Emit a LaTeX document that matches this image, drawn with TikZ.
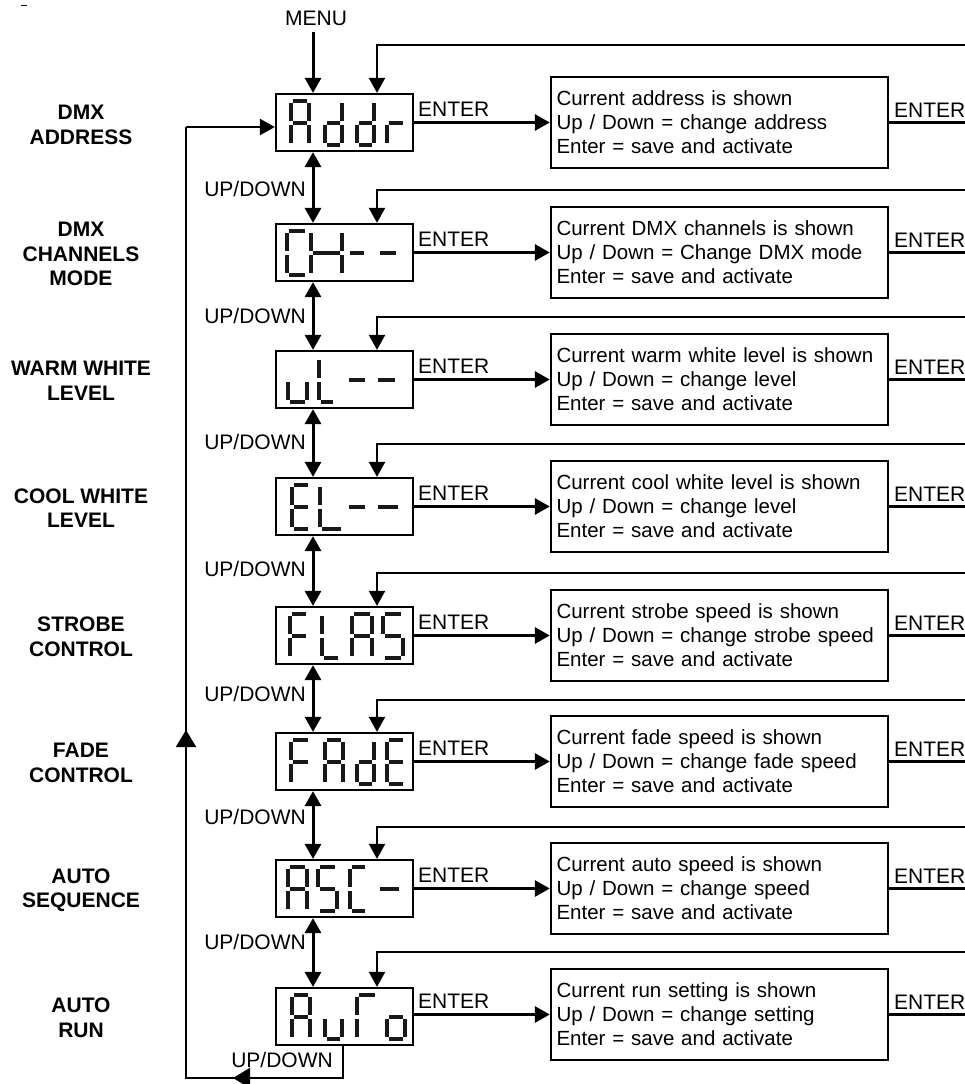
\documentclass[tikz,border=0pt]{standalone}
\usepackage{fontspec}
\setmainfont{Liberation Sans}
\usetikzlibrary{arrows.meta}
\newcommand\sga{\draw[seg] (2,0) -- ({\w-2},0);}
\newcommand\sgb{\draw[seg] (\w,2) -- (\w,20);}
\newcommand\sgc{\draw[seg] (\w,24) -- (\w,42);}
\newcommand\sgd{\draw[seg] (2,44) -- ({\w-2},44);}
\newcommand\sge{\draw[seg] (0,24) -- (0,42);}
\newcommand\sgf{\draw[seg] (0,2) -- (0,20);}
\newcommand\sgg{\draw[seg] (2,22) -- ({\w-2},22);}
\newcommand\dig[4]{\begin{scope}[shift={(#1,#2)}]\def\w{#3}\foreach \s in {#4}{\csname sg\s\endcsname}\end{scope}}
\begin{document}
\begin{tikzpicture}[x=1pt,y=-1pt,
  every node/.style={font=\fontsize{21}{24}\selectfont, inner sep=0pt},
  seg/.style={line width=3.5pt, line cap=butt, black!90},
  disp/.style={draw, line width=2.2pt, minimum width=137pt, minimum height=57pt},
  desc/.style={draw, line width=2.4pt, minimum height=91pt, text width=326pt, inner xsep=5.5pt, align=left, font=\fontsize{20.5}{24}\selectfont},
  lab/.style={align=center, font=\fontsize{21}{24.5}\selectfont\bfseries},
  main/.style={line width=3pt},
  fb/.style={line width=2pt},
  >={Triangle[length=15pt,width=16pt]},
  big/.tip={Triangle[length=17pt,width=20pt]}]
\useasboundingbox (0,0) rectangle (965,1084);
\draw[line width=1pt] (21,5) -- (27,5);
\coordinate (vx) at (313,0);
\coordinate (fx) at (377,0);
% MENU
\node[anchor=base] (menu) at (316,25) {MENU};
\coordinate (mtop) at (313,32);
% ---------- displays ----------
\node[disp] (d1) at (344.5,122.5) {};
\dig{291}{101}{18}{a,b,c,e,f,g}
\dig{325}{101}{17}{b,c,d,e,g}
\dig{357}{101}{17}{b,c,d,e,g}
\dig{387}{101}{18}{e,g}
\node[disp] (d2) at (344.5,252.5) {};
\dig{287}{231}{20}{a,d,e,f}
\dig{311}{231}{31}{b,c,e,f,g}
\dig{347.5}{231}{18}{g}
\dig{377.5}{231}{20}{g}
\node[disp] (d3) at (344.5,379.5) {};
\dig{288}{358}{19}{c,d,e}
\dig{319}{358}{16}{d,e,f}
\dig{346.5}{358}{20}{g}
\dig{375.5}{358}{21}{g}
\node[disp] (d4) at (344.5,506.5) {};
\dig{292}{485}{18}{a,d,e,f,g}
\dig{320}{485}{23}{d,e,f}
\dig{346.5}{485}{20}{g}
\dig{375.5}{485}{24}{g}
\node[disp] (d5) at (344.5,635.5) {};
\dig{290}{614}{18}{a,e,f,g}
\dig{322}{614}{18}{d,e,f}
\dig{352}{614}{20}{a,b,c,e,f,g}
\dig{383}{614}{20}{a,c,d,f,g}
\node[disp] (d6) at (344.5,761.5) {};
\dig{291}{740}{19}{a,e,f,g}
\dig{325}{740}{18}{a,b,c,e,f,g}
\dig{357}{740}{17}{b,c,d,e,g}
\dig{387}{740}{18}{a,d,e,f,g}
\node[disp] (d7) at (344.5,888.5) {};
\dig{288}{867}{19}{a,b,c,e,f,g}
\dig{318}{867}{19}{a,c,d,f,g}
\dig{350}{867}{17}{a,d,e,f}
\dig{377.5}{867}{23}{g}
\node[disp] (d8) at (344.5,1016.5) {};
\dig{292}{995}{18}{a,b,c,e,f,g}
\dig{325}{995}{17}{c,d,e}
\dig{357}{995}{20}{a,e,f}
\dig{387}{995}{18}{c,d,e,g}
% ---------- left labels ----------
\node[lab] (l1) at (81,125) {DMX\\ADDRESS};
\node[lab] (l2) at (81,254) {DMX\\CHANNELS\\MODE};
\node[lab] (l3) at (81,381) {WARM WHITE\\LEVEL};
\node[lab] (l4) at (81,508) {COOL WHITE\\LEVEL};
\node[lab] (l5) at (81,637) {STROBE\\CONTROL};
\node[lab] (l6) at (81,763) {FADE\\CONTROL};
\node[lab] (l7) at (81,890) {AUTO\\SEQUENCE};
\node[lab] (l8) at (81,1018) {AUTO\\RUN};
% ---------- description boxes ----------
\node[desc] (b1) at (719.5,122.5) {Current address is shown\\Up / Down = change address\\Enter = save and activate};
\node[desc] (b2) at (719.5,252.5) {Current DMX channels is shown\\Up / Down = Change DMX mode\\Enter = save and activate};
\node[desc] (b3) at (719.5,379.5) {Current warm white level is shown\\Up / Down = change level\\Enter = save and activate};
\node[desc] (b4) at (719.5,506.5) {Current cool white level is shown\\Up / Down = change level\\Enter = save and activate};
\node[desc] (b5) at (719.5,635.5) {Current strobe speed is shown\\Up / Down = change strobe speed\\Enter = save and activate};
\node[desc] (b6) at (719.5,761.5) {Current fade speed is shown\\Up / Down = change fade speed\\Enter = save and activate};
\node[desc] (b7) at (719.5,888.5) {Current auto speed is shown\\Up / Down = change speed\\Enter = save and activate};
\node[desc] (b8) at (719.5,1014.5) {Current run setting is shown\\Up / Down = change setting\\Enter = save and activate};
% ---------- ENTER connectors ----------
\foreach \i/\y/\f in {1/122.5/45, 2/252.5/190, 3/379.5/317, 4/506.5/444, 5/635.5/573, 6/761.5/700, 7/888.5/827, 8/1014.5/952}{
  \node[anchor=base west] (el\i) at (418,\y-6) {ENTER};
  \node[anchor=base west] (er\i) at (894,\y-5) {ENTER};
  \coordinate (r\i) at (965,\y);
  \coordinate (f\i) at (965,\f);
  \draw[main,->] (d\i.east |- r\i) -- (b\i.west |- r\i);
  \draw[main] (b\i.east |- r\i) -- (r\i);
  \draw[fb,->] (f\i) -| (d\i.north -| fx);
}
% ---------- UP/DOWN ----------
\draw[main,->] (mtop) -- (d1.north -| vx);
\foreach \i/\j/\y in {1/2/196, 2/3/323, 3/4/449, 4/5/576, 5/6/701, 6/7/824, 7/8/949}{
  \node[anchor=base east] (ud\i) at (306,\y) {UP/DOWN};
  \draw[main,<->] (d\i.south -| vx) -- (d\j.north -| vx);
}
\node[anchor=base east] (ud8) at (333,1067) {UP/DOWN};
% ---------- return loop ----------
\coordinate (rb) at (343,1078);
\coordinate (lb) at (186,1078);
\coordinate (lt) at (186,127);
\coordinate (ba) at (233,1078);
\coordinate (ua) at (186,730);
\draw[fb] (d8.south -| rb) -- (rb) -- (lb) -- (lt);
\draw[fb,-{big}] (rb) -- (ba);
\draw[fb,-{big}] (lb) -- (ua);
\draw[fb,->] (lt) -- (d1.west |- lt);
\end{tikzpicture}
\end{document}
